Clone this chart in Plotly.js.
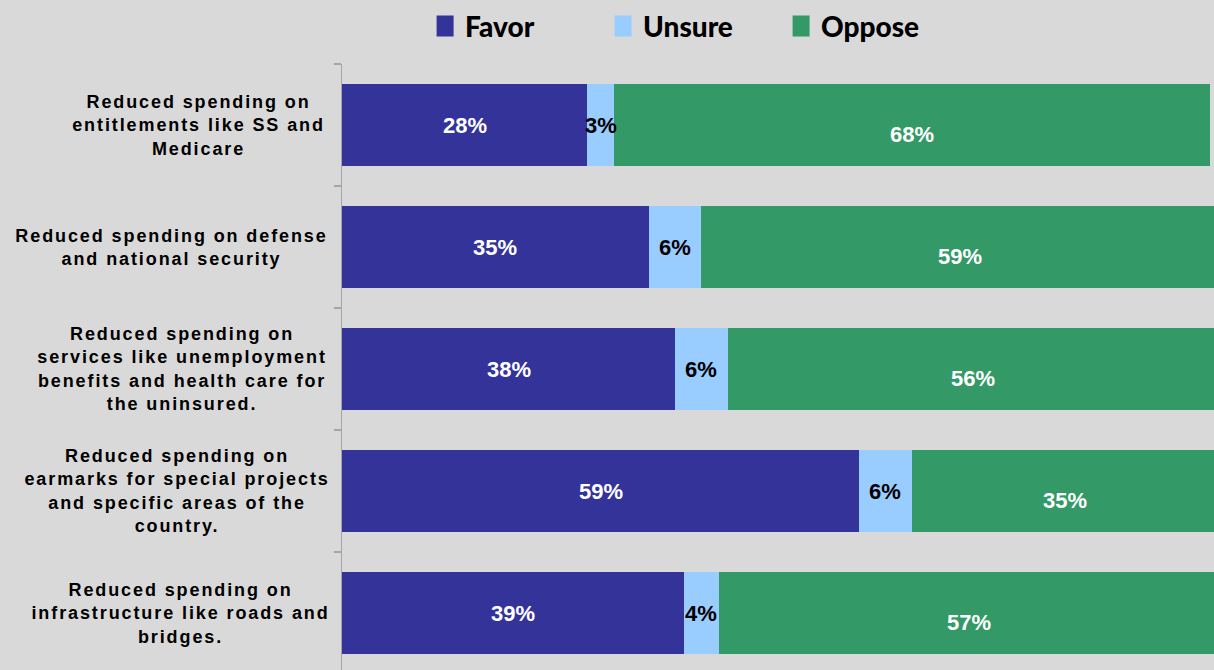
<!DOCTYPE html>
<html>
<head>
<meta charset="utf-8">
<script src="https://cdn.plot.ly/plotly-3.0.1.min.js"></script>
<style>
html, body { margin: 0; padding: 0; overflow: hidden; background: #d9d9d9; }
#chart { width: 1214px; height: 674px; }
.annotation[data-index="0"] .annotation-text,
.annotation[data-index="1"] .annotation-text,
.annotation[data-index="2"] .annotation-text,
.annotation[data-index="3"] .annotation-text,
.annotation[data-index="4"] .annotation-text { letter-spacing: 1.9px; }
</style>
</head>
<body>
<div id="chart"></div>
<script>
const categories = [
  "Reduced spending on<br>entitlements like SS and<br>Medicare",
  "Reduced spending on defense<br>and national security",
  "Reduced spending on<br>services like unemployment<br>benefits and health care for<br>the uninsured.",
  "Reduced spending on<br>earmarks for special projects<br>and specific areas of the<br>country.",
  "Reduced spending on<br>infrastructure like roads and<br>bridges."
];
const favor = [28, 35, 38, 59, 39];
const unsure = [3, 6, 6, 6, 4];
const oppose = [68, 59, 56, 35, 57];

const seriesNames = ["Favor", "Unsure", "Oppose"];
const seriesColors = ["#333399", "#99ccff", "#339966"];
const labelColors = ["#ffffff", "#000000", "#ffffff"];
const labelShift = [0, 0, -9];
const seriesValues = [favor, unsure, oppose];

const traces = seriesValues.map((vals, s) => ({
  type: "bar",
  orientation: "h",
  name: seriesNames[s],
  x: vals,
  y: categories,
  marker: { color: seriesColors[s], line: { width: 0 } },
  hoverinfo: "x+name"
}));

const annotations = [];
// category labels
categories.forEach((c, i) => {
  annotations.push({
    xref: "paper", yref: "y", x: -0.0172, y: c, xshift: -24,
    xanchor: "right", yanchor: "middle", align: "center",
    text: c, showarrow: false, borderpad: 0,
    font: { family: "Liberation Sans, Arial, sans-serif", size: 18, color: "#000000", weight: "bold" }
  });
});
// data labels
categories.forEach((c, i) => {
  let cum = 0;
  seriesValues.forEach((vals, s) => {
    const v = vals[i];
    annotations.push({
      xref: "x", yref: "y", x: cum + v / 2, y: c, yshift: labelShift[s],
      xanchor: "center", yanchor: "middle",
      text: v + "%", showarrow: false,
      font: { family: "Liberation Sans, Arial, sans-serif", size: 22, color: labelColors[s], weight: "bold" }
    });
    cum += v;
  });
});

const layout = {
  width: 1214, height: 674,
  margin: { l: 342, r: 0, t: 64, b: 0, pad: 0 },
  paper_bgcolor: "#d9d9d9",
  plot_bgcolor: "#d9d9d9",
  barmode: "stack",
  bargap: 0.332,
  showlegend: true,
  legend: {
    orientation: "h", x: 0.0953, xanchor: "left", y: 1.062, yanchor: "middle",
    font: { family: "Lato, sans-serif", size: 28, color: "#000000", weight: 900 },
    entrywidth: 133, entrywidthmode: "pixels",
    bgcolor: "rgba(0,0,0,0)", itemclick: false, traceorder: "normal"
  },
  xaxis: {
    range: [0, 99.5], showgrid: false, zeroline: false, showline: false,
    showticklabels: false, ticks: "", fixedrange: true
  },
  yaxis: {
    type: "category", autorange: "reversed",
    showticklabels: false, showgrid: false, zeroline: false,
    showline: true, linecolor: "#a6a6a6", linewidth: 1.5,
    ticks: "outside", tickson: "boundaries", ticklen: 7, tickcolor: "#a6a6a6", tickwidth: 1.5,
    fixedrange: true
  },
  annotations: annotations
};

Plotly.newPlot("chart", traces, layout, { displayModeBar: false, staticPlot: true }).then(gd => {
  document.querySelectorAll(".legend .legendpoints path").forEach(p => {
    p.setAttribute("d", "M8.5,10.5H-8.5V-10.5H8.5Z");
  });
});
</script>
</body>
</html>
